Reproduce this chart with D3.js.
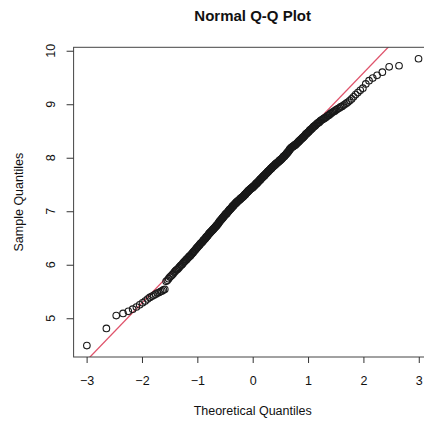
<!DOCTYPE html>
<head>
    <meta charset="utf-8" />
    <style>
        body { margin: 0; background: #fff; }
        svg { font-family: "Liberation Sans", Arial, sans-serif; }
        .tick line { stroke: #333; }
    </style>
</head>
<body>
<svg width="424" height="421"></svg>
<script src="https://d3js.org/d3.v7.min.js"></script>
<script>
    // sorted sample (n = 365)
    var sample = [
        4.49, 4.81, 5.05, 5.09, 5.13, 5.17, 5.21, 5.25, 5.29, 5.32, 5.36, 5.39, 5.41, 5.43, 5.45, 5.47, 5.48, 5.50, 5.51, 5.53, 5.54,
        5.69, 5.71, 5.74, 5.77, 5.79, 5.81, 5.83, 5.86, 5.88,
        5.90, 5.91, 5.93, 5.95, 5.97, 5.99, 6.00, 6.02, 6.04, 6.06,
        6.07, 6.09, 6.10, 6.12, 6.13, 6.15, 6.16, 6.17, 6.19, 6.20,
        6.22, 6.23, 6.25, 6.26, 6.28, 6.29, 6.31, 6.32, 6.33, 6.35,
        6.36, 6.37, 6.39, 6.40, 6.41, 6.42, 6.43, 6.45, 6.46, 6.47,
        6.48, 6.49, 6.51, 6.52, 6.53, 6.54, 6.55, 6.57, 6.58, 6.59,
        6.60, 6.61, 6.62, 6.63, 6.64, 6.65, 6.66, 6.67, 6.68, 6.69,
        6.70, 6.71, 6.72, 6.73, 6.74, 6.75, 6.76, 6.77, 6.79, 6.80,
        6.81, 6.82, 6.83, 6.84, 6.85, 6.86, 6.87, 6.88, 6.89, 6.90,
        6.91, 6.92, 6.93, 6.94, 6.95, 6.95, 6.96, 6.97, 6.98, 6.99,
        7.00, 7.01, 7.02, 7.03, 7.04, 7.04, 7.05, 7.06, 7.07, 7.08,
        7.09, 7.10, 7.10, 7.11, 7.12, 7.13, 7.14, 7.14, 7.15, 7.16,
        7.17, 7.17, 7.18, 7.19, 7.19, 7.20, 7.21, 7.21, 7.22, 7.23,
        7.23, 7.24, 7.25, 7.25, 7.26, 7.26, 7.27, 7.28, 7.28, 7.29,
        7.30, 7.31, 7.31, 7.32, 7.33, 7.34, 7.35, 7.35, 7.36, 7.37,
        7.38, 7.38, 7.39, 7.40, 7.40, 7.41, 7.42, 7.42, 7.43, 7.43, 7.44, 7.44, 7.45,
        7.46, 7.46, 7.47, 7.48, 7.48, 7.49, 7.50, 7.51, 7.51, 7.52, 7.53, 7.53, 7.54,
        7.55, 7.56, 7.56, 7.57, 7.58, 7.59, 7.59, 7.60, 7.61, 7.62,
        7.62, 7.63, 7.64, 7.65, 7.65, 7.66, 7.67, 7.67, 7.68, 7.69,
        7.70, 7.71, 7.71, 7.72, 7.73, 7.74, 7.74, 7.75, 7.76, 7.77,
        7.77, 7.78, 7.79, 7.80, 7.80, 7.81, 7.82, 7.83, 7.83, 7.84,
        7.85, 7.85, 7.86, 7.87, 7.88, 7.88, 7.89, 7.90, 7.90, 7.91,
        7.92, 7.92, 7.93, 7.94, 7.95, 7.95, 7.96, 7.97, 7.97, 7.98,
        7.99, 8.00, 8.01, 8.02, 8.03, 8.03, 8.04, 8.05, 8.06, 8.07,
        8.08, 8.09, 8.10, 8.11, 8.12, 8.13, 8.15, 8.16, 8.17, 8.18,
        8.19, 8.20, 8.20, 8.21, 8.22, 8.22, 8.23, 8.24, 8.24, 8.25,
        8.26, 8.27, 8.28, 8.29, 8.30, 8.31, 8.32, 8.33, 8.34, 8.35,
        8.36, 8.37, 8.38, 8.39, 8.40, 8.41, 8.43, 8.44, 8.45, 8.46,
        8.47, 8.48, 8.49, 8.51, 8.52, 8.53, 8.54, 8.55, 8.57, 8.58,
        8.59, 8.60, 8.61, 8.63, 8.64, 8.65, 8.66, 8.67, 8.69, 8.70,
        8.71, 8.72, 8.73, 8.74, 8.75, 8.76, 8.78, 8.79, 8.80, 8.82,
        8.83, 8.85, 8.86, 8.87, 8.89, 8.90, 8.92, 8.93, 8.95, 8.96,
        8.98, 9.00, 9.02, 9.04, 9.07, 9.10, 9.14, 9.18, 9.22, 9.26,
        9.30, 9.38, 9.44, 9.49, 9.54, 9.60, 9.70, 9.72, 9.85
    ];
    var xTicks = [-3, -2, -1, 0, 1, 2, 3];
    var yTicks = [5, 6, 7, 8, 9, 10];

    var svg = d3.select("svg");
    // plot region (box) in pixels; right edge runs past the picture
    var box = { left: 73.6, right: 431.8, top: 47.3, bottom: 357 };

    // inverse normal cdf (Acklam)
    function qnorm(p) {
        var a = [-39.69683028665376, 220.9460984245205, -275.9285104469687, 138.3577518672690, -30.66479806614716, 2.506628277459239],
            b = [-54.47609879822406, 161.5858368580409, -155.6989798598866, 66.80131188771972, -13.28068155288572],
            c = [-0.007784894002430293, -0.3223964580411365, -2.400758277161838, -2.549732539343734, 4.374664141464968, 2.938163982698783],
            d = [0.007784695709041462, 0.3224671290700398, 2.445134137142996, 3.754408661907416];
        var q, r;
        if (p < 0.02425) {
            q = Math.sqrt(-2 * Math.log(p));
            return (((((c[0] * q + c[1]) * q + c[2]) * q + c[3]) * q + c[4]) * q + c[5]) /
                ((((d[0] * q + d[1]) * q + d[2]) * q + d[3]) * q + 1);
        } else if (p > 1 - 0.02425) {
            return -qnorm(1 - p);
        }
        q = p - 0.5; r = q * q;
        return (((((a[0] * r + a[1]) * r + a[2]) * r + a[3]) * r + a[4]) * r + a[5]) * q /
            (((((b[0] * r + b[1]) * r + b[2]) * r + b[3]) * r + b[4]) * r + 1);
    }

    var n = sample.length;
    var points = sample.map((v, i) => ({ q: qnorm((i + 0.5) / n), v: v }));

    // R style 4% padding on both axes
    var xr = d3.extent(points, d => d.q), yr = d3.extent(sample);
    var xpad = (xr[1] - xr[0]) * 0.04, ypad = (yr[1] - yr[0]) * 0.04;
    var x = d3.scaleLinear().domain([xr[0] - xpad, xr[1] + xpad]).range([box.left, box.right]);
    var y = d3.scaleLinear().domain([yr[0] - ypad, yr[1] + ypad]).range([box.bottom, box.top]);

    // qqline through the quartiles
    var q1 = d3.quantile(sample, 0.25), q3 = d3.quantile(sample, 0.75);
    var slope = (q3 - q1) / (qnorm(0.75) - qnorm(0.25));
    var icpt = q1 - slope * qnorm(0.25);

    svg.append("clipPath").attr("id", "plotclip")
        .append("rect")
        .attr("x", box.left).attr("y", box.top)
        .attr("width", box.right - box.left).attr("height", box.bottom - box.top);

    // reference line (under the points, the dense band hides it)
    var xd = x.domain();
    svg.append("line")
        .attr("clip-path", "url(#plotclip)")
        .attr("x1", x(xd[0])).attr("y1", y(icpt + slope * xd[0]))
        .attr("x2", x(xd[1])).attr("y2", y(icpt + slope * xd[1]))
        .attr("stroke", "#DF536B")
        .attr("stroke-width", 1.3);

    // points
    svg.append("g")
        .selectAll("circle")
        .data(points)
        .enter().append("circle")
        .attr("cx", d => x(d.q))
        .attr("cy", d => y(d.v))
        .attr("r", 3.3)
        .attr("fill", "none")
        .attr("stroke", "#1a1a1a")
        .attr("stroke-width", 1.1);

    // box
    svg.append("rect")
        .attr("x", box.left).attr("y", box.top)
        .attr("width", box.right - box.left).attr("height", box.bottom - box.top)
        .attr("fill", "none")
        .attr("stroke", "#444")
        .attr("stroke-width", 1);

    // x axis
    var gx = svg.append("g")
        .attr("transform", "translate(0," + box.bottom + ")")
        .call(d3.axisBottom(x).tickValues(xTicks).tickSize(6).tickPadding(13)
            .tickFormat(d => d < 0 ? "\u2212" + Math.abs(d) : d));
    gx.select(".domain").remove();
    gx.selectAll("text").attr("font-size", 12.5).attr("fill", "#111").attr("font-family", null);

    // y axis, labels turned like R
    var gy = svg.append("g")
        .attr("transform", "translate(" + box.left + ",0)")
        .call(d3.axisLeft(y).tickValues(yTicks).tickSize(7).tickFormat(""));
    gy.select(".domain").remove();
    svg.append("g")
        .selectAll("text")
        .data(yTicks)
        .enter().append("text")
        .attr("transform", d => "translate(55," + y(d) + ") rotate(-90)")
        .attr("text-anchor", "middle")
        .attr("font-size", 12.5)
        .attr("fill", "#111")
        .text(d => d);

    // titles
    svg.append("text")
        .attr("x", (box.left + box.right) / 2)
        .attr("y", 21)
        .attr("text-anchor", "middle")
        .attr("font-size", 15)
        .attr("font-weight", "bold")
        .attr("fill", "#111")
        .text("Normal Q-Q Plot");

    svg.append("text")
        .attr("x", (box.left + box.right) / 2)
        .attr("y", 415)
        .attr("text-anchor", "middle")
        .attr("font-size", 12.5)
        .attr("fill", "#111")
        .text("Theoretical Quantiles");

    svg.append("text")
        .attr("transform", "translate(23," + (box.top + box.bottom) / 2 + ") rotate(-90)")
        .attr("text-anchor", "middle")
        .attr("font-size", 12.5)
        .attr("fill", "#111")
        .text("Sample Quantiles");
</script>
</body>
